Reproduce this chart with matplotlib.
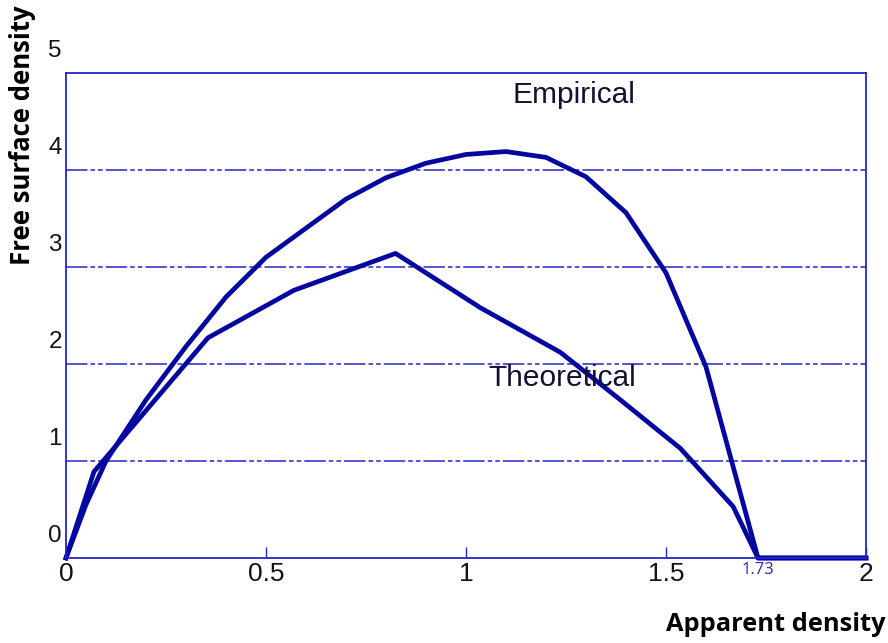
import numpy as np
import matplotlib.pyplot as plt
from matplotlib.transforms import ScaledTranslation

# apparent density vs free surface density
emp_x = [0, 0.05, 0.1, 0.2, 0.3, 0.4, 0.5, 0.6, 0.7, 0.8, 0.9, 1.0, 1.1, 1.2, 1.3, 1.4, 1.5, 1.6, 1.73, 2.0]
emp_y = [0, 0.55, 1.0, 1.63, 2.18, 2.69, 3.10, 3.40, 3.70, 3.92, 4.07, 4.16, 4.19, 4.13, 3.93, 3.56, 2.94, 1.97, 0, 0]

theo_x = [0, 0.07, 0.355, 0.57, 0.824, 1.036, 1.236, 1.386, 1.536, 1.668, 1.73, 2.0]
theo_y = [0, 0.89, 2.27, 2.76, 3.14, 2.58, 2.12, 1.63, 1.13, 0.53, 0, 0]

xticks = [0, 0.5, 1, 1.5, 2]
xticklabels = ["0", "0.5", "1", "1.5", "2"]
yticks = [0, 1, 2, 3, 4, 5]

plt.rcParams['font.family'] = ['Liberation Sans', 'DejaVu Sans']

line_col = '#0505a0'
axis_col = '#2424c8'

fig = plt.figure(figsize=(8.88, 6.43), dpi=100)
ax = fig.add_axes([0.0743, 0.1322, 0.9009, 0.7543])

ax.plot(emp_x, emp_y, color=line_col, lw=3.4, clip_on=False, solid_joinstyle='round')
ax.plot(theo_x, theo_y, color=line_col, lw=3.4, clip_on=False, solid_joinstyle='round')

ax.set_xlim(0, 2)
ax.set_ylim(0, 5)

# dash-dot grid lines
for y in [1, 2, 3, 4]:
    ax.axhline(y, color=axis_col, lw=1.1, ls=(0, (14, 2, 3, 2, 3, 2)), zorder=1)

for s in ax.spines.values():
    s.set_color(axis_col)
    s.set_linewidth(1.3)

ax.set_xticks(xticks)
ax.set_xticklabels(xticklabels, fontsize=19, color='#111122')
ax.tick_params(axis='x', direction='in', length=8, color=axis_col, width=1, pad=3)
ax.set_yticks(yticks)
ax.set_yticklabels([str(v) for v in yticks], fontsize=17.5, color='#111122')
ax.tick_params(axis='y', length=0, pad=3)

# y labels sit a bit above their grid lines
shift = ScaledTranslation(0, 0.24, fig.dpi_scale_trans)
for lab in ax.get_yticklabels():
    lab.set_transform(lab.get_transform() + shift)

ax.text(1.116, 4.77, "Empirical", fontsize=21.5, color='#111133', ha='left', va='center')
ax.text(1.056, 1.86, "Theoretical", fontsize=21.5, color='#111133', ha='left', va='center')
ax.text(1.73, -0.04, "1.73", fontsize=12, color='#2a2ab0', ha='center', va='top',
        family=['Open Sans', 'DejaVu Sans'])

fig.text(0.997, 0.028, "Apparent density", fontsize=18.3, fontweight='bold',
         ha='right', va='center', family=['Open Sans', 'DejaVu Sans'])
fig.text(0.025, 0.79, "Free surface density", fontsize=18.5, fontweight='bold',
         rotation=90, ha='center', va='center', family=['Open Sans', 'DejaVu Sans'])

fig.savefig('out.png', dpi=100)
